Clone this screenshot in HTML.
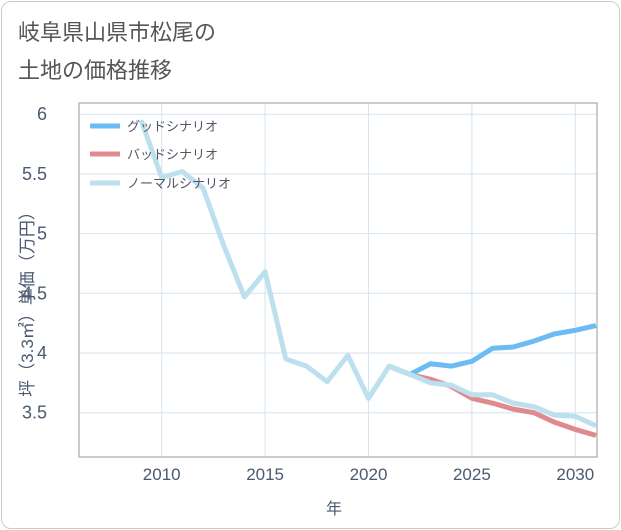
<!DOCTYPE html>
<html><head><meta charset="utf-8"><style>
body{margin:0;background:#fff;font-family:"Liberation Sans","Noto Sans CJK JP",sans-serif;}
#card{position:absolute;left:1px;top:1px;width:617px;height:526px;border:1px solid #ccc;border-radius:10px;background:#fff;}
#title{position:absolute;left:18px;top:14px;font-size:22px;line-height:38px;color:#555;}
</style></head><body>
<div id="card"></div>
<div id="title">岐阜県山県市松尾の<br>土地の価格推移</div>
<svg id="chart" width="621" height="530" style="position:absolute;left:0;top:0"></svg>
<script>
const years=[2009,2010,2011,2012,2013,2014,2015,2016,2017,2018,2019,2020,2021,2022,2023,2024,2025,2026,2027,2028,2029,2030,2031];
const normalVals=[5.95,5.47,5.52,5.38,4.9,4.47,4.68,3.95,3.89,3.76,3.98,3.62,3.89,3.82,3.75,3.73,3.65,3.65,3.58,3.55,3.48,3.47,3.39];
const futYears=[2021,2022,2023,2024,2025,2026,2027,2028,2029,2030,2031];
const goodVals=[3.89,3.82,3.91,3.89,3.93,4.04,4.05,4.10,4.16,4.19,4.23];
const badVals=[3.89,3.82,3.78,3.72,3.62,3.58,3.53,3.50,3.42,3.36,3.31];
const xTicks=[2010,2015,2020,2025,2030];
const yTicks=[3.5,4,4.5,5,5.5,6];
const L=79,R=597,T=103,B=457;
const x=v=>L+(v-2006)*(R-L)/(2031.05-2006);
const y=v=>353-(v-4)*119.4;
const svg=document.getElementById('chart');const NS='http://www.w3.org/2000/svg';
function mk(t,a,p){const e=document.createElementNS(NS,t);for(const k in a)e.setAttribute(k,a[k]);(p||svg).appendChild(e);return e;}
const clip=mk('clipPath',{id:'c'});mk('rect',{x:L,y:T,width:R-L,height:B-T},clip);
xTicks.forEach(t=>{const l=mk('line',{x1:x(t),x2:x(t),y1:T,y2:B,stroke:'#d5e3ee'});

const s=mk('text',{x:x(t),y:480,'text-anchor':'middle','font-size':17,fill:'#4a5a70'});s.textContent=t;
});
yTicks.forEach(t=>{const l=mk('line',{x1:L,x2:R,y1:y(t),y2:y(t),stroke:'#d5e3ee'});

const s=mk('text',{x:47,y:y(t)+6,'text-anchor':'end','font-size':18,fill:'#4a5a70'});s.textContent=t;
});
const fr=mk('rect',{x:L,y:T,width:R-L,height:B-T,fill:'none',stroke:'#999'});

function line(xs,vs,c,n){const p=mk('polyline',{points:xs.map((v,i)=>x(v)+','+y(vs[i])).join(' '),fill:'none',stroke:c,'stroke-width':5,'stroke-linejoin':'round','clip-path':'url(#c)'});
}
line(futYears,badVals,'#e08a90','bad-scenario-line');
line(futYears,goodVals,'#6bbcf2','good-scenario-line');
line(years,normalVals,'#bde0ee','normal-scenario-line');
[['グッドシナリオ','#6bbcf2',126],['バッドシナリオ','#e08a90',154],['ノーマルシナリオ','#bde0ee',183]].forEach(([n,c,yy])=>{
const g=mk('g',{});
mk('line',{x1:90,x2:120,y1:yy,y2:yy,stroke:c,'stroke-width':5},g);
const t=mk('text',{x:127,y:yy+5,'font-size':13,fill:'#556'},g);t.textContent=n;});
const xt=mk('text',{x:334,y:514,'text-anchor':'middle','font-size':16,fill:'#4a5a70'});xt.textContent='年';

const yt=mk('text',{x:0,y:0,'text-anchor':'middle','font-size':17,fill:'#4a5a70',transform:'translate(33,300) rotate(-90)'});yt.textContent='坪（3.3㎡）単価（万円）';

</script>
</body></html>
